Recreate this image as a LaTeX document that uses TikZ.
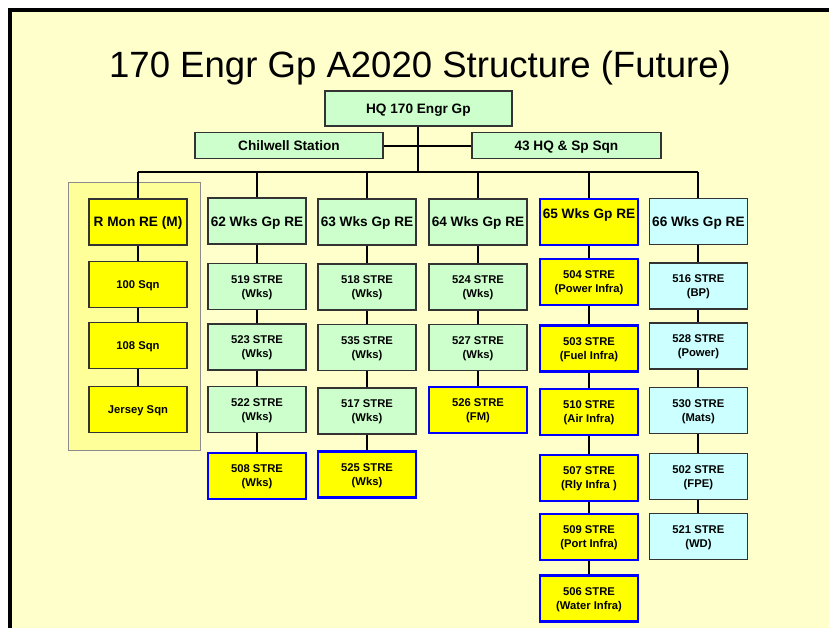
\documentclass[tikz,border=0pt]{standalone}
\usepackage{fontspec}
\setmainfont{Liberation Sans}

\definecolor{pagebg}{HTML}{FFFFCC}
\definecolor{panelyellow}{HTML}{FFFF99}
\definecolor{wksgreen}{HTML}{CCFFCC}
\definecolor{sptcyan}{HTML}{CCFFFF}
\definecolor{sqnyellow}{HTML}{FFFF00}
\definecolor{newblue}{HTML}{0000FF}

\begin{document}
\begin{tikzpicture}[
    every node/.style={font=\bfseries\fontsize{8}{10}\selectfont, align=center},
    unit/.style={draw=black!80, line width=1.1pt, minimum width=2.45cm,
        minimum height=1.15cm, inner sep=1pt, text depth=0pt},
    wks/.style={unit, fill=wksgreen},
    spt/.style={unit, fill=sptcyan},
    sqn/.style={unit, fill=sqnyellow},
    newunit/.style={unit, fill=sqnyellow, draw=newblue, line width=2pt},
    head/.style={font=\bfseries\fontsize{9.7}{11}\selectfont},
    link/.style={line width=1.4pt, black}
]

\useasboundingbox (0,0) rectangle (20.725,15.7);

% --- Page ---
\fill[pagebg] (0.25,0) rectangle (20.725,15.45);
\draw[line width=0.1cm] (0.25,0) -- (0.25,15.45) -- (20.725,15.45);

% --- Title ---
\node[font=\fontsize{26}{30}\selectfont, anchor=base] (title) at (10.5,13.75)
    {170 Engr Gp A2020 Structure (Future)};

% --- Group HQ ---
\node[wks, head, minimum width=4.675cm, minimum height=0.875cm] (hq) at (10.46,12.99) {HQ 170 Engr Gp};
\node[wks, head, minimum width=4.7cm, minimum height=0.65cm] (chil) at (7.225,12.06) {Chilwell Station};
\node[wks, head, minimum width=4.725cm, minimum height=0.65cm] (sqn43) at (14.16,12.06) {43 HQ \& Sp Sqn};
\coordinate (bus) at (10.46,11.4);

% --- R Mon RE (M) ---
\filldraw[fill=panelyellow, draw=black!45, line width=0.6pt] (1.7,4.45) rectangle (5.0,11.15);
\node[sqn, head] (rmon) at (3.45,10.15) {R Mon RE (M)};
\node[sqn] (s100) at (3.45,8.59) {100 Sqn};
\node[sqn] (s108) at (3.45,7.06) {108 Sqn};
\node[sqn] (jersey) at (3.45,5.46) {Jersey Sqn};

% --- 62 Wks Gp RE ---
\node[wks, head] (w62) at (6.425,10.17) {62 Wks Gp RE};
\node[wks] (s519) at (6.425,8.54) {519 STRE\\(Wks)};
\node[wks] (s523) at (6.425,7.03) {523 STRE\\(Wks)};
\node[wks] (s522) at (6.425,5.46) {522 STRE\\(Wks)};
\node[newunit] (s508) at (6.425,3.8) {508 STRE\\(Wks)};

% --- 63 Wks Gp RE ---
\node[wks, head] (w63) at (9.175,10.15) {63 Wks Gp RE};
\node[wks] (s518) at (9.175,8.53) {518 STRE\\(Wks)};
\node[wks] (s535) at (9.175,7.01) {535 STRE\\(Wks)};
\node[wks] (s517) at (9.175,5.43) {517 STRE\\(Wks)};
\node[newunit] (s525) at (9.175,3.83) {525 STRE\\(Wks)};

% --- 64 Wks Gp RE ---
\node[wks, head] (w64) at (11.95,10.15) {64 Wks Gp RE};
\node[wks] (s524) at (11.95,8.53) {524 STRE\\(Wks)};
\node[wks] (s527) at (11.95,7.01) {527 STRE\\(Wks)};
\node[newunit] (s526) at (11.95,5.45) {526 STRE\\(FM)};

% --- 65 Wks Gp RE ---
\node[newunit, head] (w65) at (14.725,10.15) {\raisebox{0.4cm}{65 Wks Gp RE}};
\node[newunit] (s504) at (14.725,8.65) {504 STRE\\(Power Infra)};
\node[newunit] (s503) at (14.725,6.99) {503 STRE\\(Fuel Infra)};
\node[newunit] (s510) at (14.725,5.4) {510 STRE\\(Air Infra)};
\node[newunit] (s507) at (14.725,3.75) {507 STRE\\(Rly Infra )};
\node[newunit] (s509) at (14.725,2.275) {509 STRE\\(Port Infra)};
\node[newunit] (s506) at (14.725,0.74) {506 STRE\\(Water Infra)};

% --- 66 Wks Gp RE ---
\node[spt, head] (w66) at (17.46,10.16) {66 Wks Gp RE};
\node[spt] (s516) at (17.46,8.55) {516 STRE\\(BP)};
\node[spt] (s528) at (17.46,7.05) {528 STRE\\(Power)};
\node[spt] (s530) at (17.46,5.44) {530 STRE\\(Mats)};
\node[spt] (s502) at (17.46,3.79) {502 STRE\\(FPE)};
\node[spt] (s521) at (17.46,2.29) {521 STRE\\(WD)};

% --- Connectors ---
\draw[link] (hq) -- (bus);
\draw[link] (chil) -- (sqn43);
\draw[link] (rmon |- bus) -- (w66 |- bus);
\draw[link] (rmon) -- (rmon |- bus);
\draw[link] (w62) -- (w62 |- bus);
\draw[link] (w63) -- (w63 |- bus);
\draw[link] (w64) -- (w64 |- bus);
\draw[link] (w65) -- (w65 |- bus);
\draw[link] (w66) -- (w66 |- bus);

\draw[link] (rmon) -- (s100) -- (s108) -- (jersey);
\draw[link] (w62) -- (s519) -- (s523) -- (s522) -- (s508);
\draw[link] (w63) -- (s518) -- (s535) -- (s517) -- (s525);
\draw[link] (w64) -- (s524) -- (s527) -- (s526);
\draw[link] (w65) -- (s504) -- (s503) -- (s510) -- (s507) -- (s509) -- (s506);
\draw[link] (w66) -- (s516) -- (s528) -- (s530) -- (s502) -- (s521);

\end{tikzpicture}
\end{document}
